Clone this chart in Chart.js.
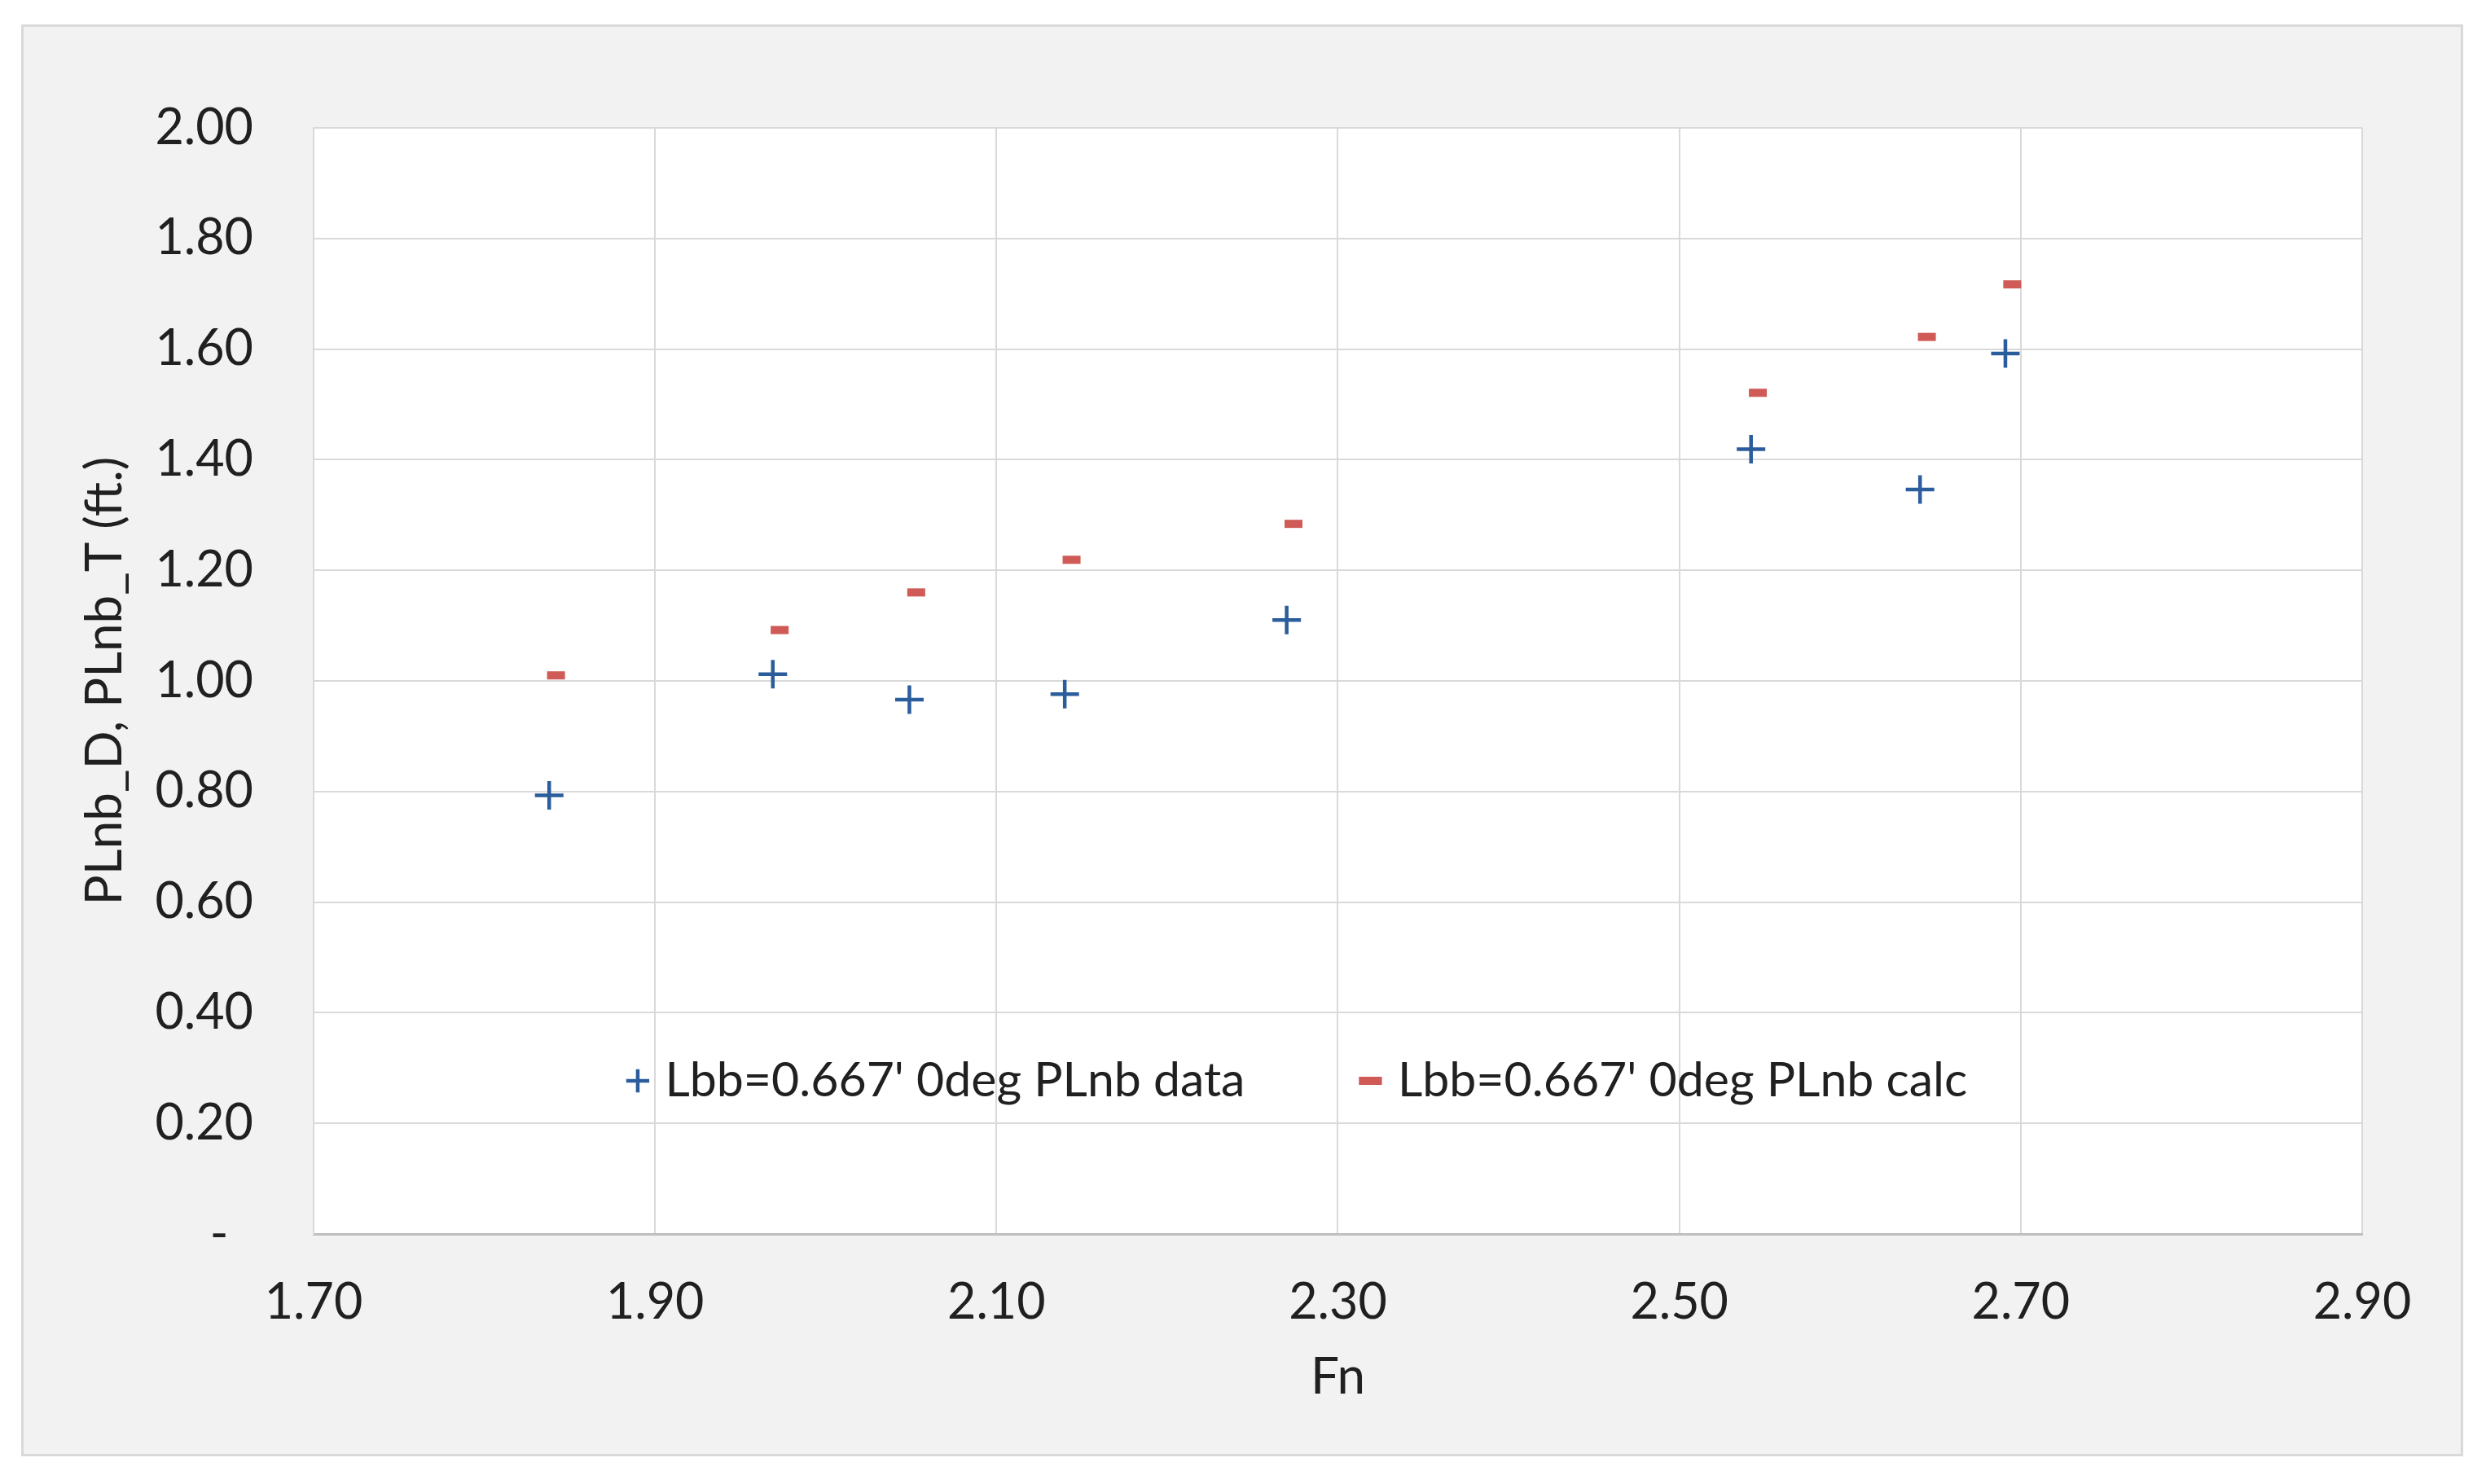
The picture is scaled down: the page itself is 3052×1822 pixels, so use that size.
<!DOCTYPE html>
<html>
<head>
<meta charset="utf-8">
<script src="https://cdn.jsdelivr.net/npm/chart.js@4.4.0/dist/chart.umd.min.js"></script>
<style>
  html, body { margin: 0; padding: 0; background: #ffffff; }
  #wrap { width: 3052px; height: 1822px; }
</style>
</head>
<body>
<div id="wrap"><canvas id="c" width="3052" height="1822"></canvas></div>
<script>
// ---- data ----
const fnData   = [1.838, 1.969, 2.049, 2.140, 2.270, 2.542, 2.641, 2.691];
const plnbData = [0.793, 1.012, 0.966, 0.976, 1.110, 1.419, 1.346, 1.592];
const fnCalc   = [1.842, 1.973, 2.053, 2.144, 2.274, 2.546, 2.645, 2.695];
const plnbCalc = [1.010, 1.092, 1.160, 1.219, 1.284, 1.521, 1.622, 1.717];
const seriesNames = ["Lbb=0.667' 0deg PLnb data", "Lbb=0.667' 0deg PLnb calc"];
const xTickLabels = ['1.70', '1.90', '2.10', '2.30', '2.50', '2.70', '2.90'];
const yTickLabels = ['-', '0.20', '0.40', '0.60', '0.80', '1.00', '1.20', '1.40', '1.60', '1.80', '2.00'];
const xTitle = 'Fn';
const yTitle = 'PLnb_D, PLnb_T (ft.)';

const FONT = 'Lato, "Open Sans", "Liberation Sans", sans-serif';
const TEXT_COLOR = '#202020';

const bgPlugin = {
  id: 'bgPlugin',
  beforeDraw(chart) {
    const { ctx, chartArea: a } = chart;
    ctx.save();
    ctx.fillStyle = '#FFFFFF';
    ctx.fillRect(0, 0, chart.width, chart.height);
    ctx.fillStyle = '#F2F2F2';
    ctx.fillRect(27, 31, 2996, 1756);
    ctx.strokeStyle = '#D9D9D9';
    ctx.lineWidth = 3;
    ctx.strokeRect(27.5, 31.5, 2995, 1755);
    ctx.fillStyle = '#FFFFFF';
    ctx.fillRect(a.left, a.top, a.right - a.left, a.bottom - a.top);
    ctx.restore();
  }
};

// Legend sits inside the plot area (as in the reference): keep it out of the layout, then place it.
const legendPlacer = {
  id: 'legendPlacer',
  afterInit(chart) {
    const lg = chart.legend;
    if (!lg || lg._patched) return;
    const origFit = lg.fit.bind(lg);
    lg.fit = function () { origFit(); this._fullH = this.height; this.height = 0; };
    lg._patched = true;
  },
  afterLayout(chart) {
    const lg = chart.legend;
    if (!lg) return;
    const labels = lg.options.labels;
    const pad = labels.padding;
    const fs = labels.font.size;
    const h = lg._fullH || (fs + pad + 10);
    const cy = 1327, cx = 1597;
    const w = lg.width;
    lg.top = cy - pad - fs / 2;
    lg.bottom = lg.top + h;
    lg.height = h;
    lg.left = cx - w / 2;
    lg.right = cx + w / 2;
  }
};

const ctx = document.getElementById('c').getContext('2d');
new Chart(ctx, {
  type: 'scatter',
  data: {
    datasets: [
      {
        label: seriesNames[0],
        data: fnData.map((x, i) => ({ x: x, y: plnbData[i] })),
        pointStyle: 'cross',
        pointRadius: 17.5,
        pointHoverRadius: 17.5,
        pointBorderWidth: 4.5,
        pointBorderColor: '#2B5C9B',
        pointBackgroundColor: '#2B5C9B',
        borderColor: '#2B5C9B',
        backgroundColor: '#2B5C9B',
        showLine: false
      },
      {
        label: seriesNames[1],
        data: fnCalc.map((x, i) => ({ x: x, y: plnbCalc[i] })),
        pointStyle: 'line',
        pointRadius: 11,
        pointHoverRadius: 11,
        pointBorderWidth: 10,
        pointBorderColor: '#CF5A56',
        pointBackgroundColor: '#CF5A56',
        borderColor: '#CF5A56',
        backgroundColor: '#CF5A56',
        showLine: false
      }
    ]
  },
  options: {
    responsive: false,
    animation: false,
    devicePixelRatio: 1,
    layout: { padding: { top: 157, right: 152, left: 0, bottom: 0 } },
    plugins: {
      tooltip: { enabled: false },
      legend: {
        display: true,
        position: 'bottom',
        align: 'center',
        labels: {
          usePointStyle: true,
          boxWidth: 8,
          boxHeight: 20,
          padding: 150,
          color: TEXT_COLOR,
          font: { family: FONT, size: 59 }
        }
      }
    },
    scales: {
      x: {
        type: 'linear',
        min: 1.7,
        max: 2.9,
        afterFit(s) { s.height = 307; },
        grid: { color: '#D9D9D9', lineWidth: 2, drawTicks: false },
        border: { color: '#BFBFBF', width: 3 },
        ticks: {
          stepSize: 0.2,
          padding: 48,
          autoSkip: false,
          maxRotation: 0,
          color: TEXT_COLOR,
          font: { family: FONT, size: 61 },
          callback: (v, i) => xTickLabels[i]
        },
        title: {
          display: true,
          text: xTitle,
          color: TEXT_COLOR,
          font: { family: FONT, size: 62 },
          padding: { top: 0, bottom: 94 }
        }
      },
      y: {
        type: 'linear',
        min: 0,
        max: 2,
        afterFit(s) { s.width = 385; },
        grid: { color: '#D9D9D9', lineWidth: 2, drawTicks: false },
        border: { color: '#D9D9D9', width: 2 },
        ticks: {
          stepSize: 0.2,
          padding: 74,
          autoSkip: false,
          color: TEXT_COLOR,
          font: { family: FONT, size: 61 },
          callback: (v, i) => (yTickLabels[i] === '-' ? '-\u2002' : yTickLabels[i])
        },
        title: {
          display: true,
          text: yTitle,
          color: TEXT_COLOR,
          font: { family: FONT, size: 62 },
          padding: { top: 92, bottom: 0 }
        }
      }
    }
  },
  plugins: [bgPlugin, legendPlacer]
});
</script>
</body>
</html>
